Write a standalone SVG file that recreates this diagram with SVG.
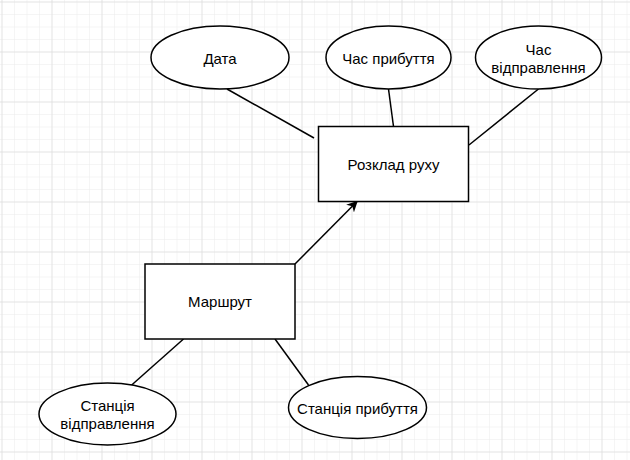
<svg xmlns="http://www.w3.org/2000/svg" width="630" height="460" viewBox="0 0 630 460">
<defs>
<pattern id="minor" width="12.5" height="12.5" patternUnits="userSpaceOnUse" x="1.5" y="1.5">
<path d="M0 0H12.5M0 0V12.5" fill="none" stroke="#ececec" stroke-width="1"/>
</pattern>
<pattern id="major" width="50" height="50" patternUnits="userSpaceOnUse" x="1.5" y="1.5">
<path d="M0 0H50M0 0V50" fill="none" stroke="#d6d6d6" stroke-width="1"/>
</pattern>
<marker id="arr" viewBox="0 0 10 10" refX="9" refY="5" markerWidth="11" markerHeight="11" markerUnits="userSpaceOnUse" orient="auto">
<path d="M0 0L10 5L0 10L3 5Z" fill="#000"/>
</marker>
</defs>
<style>
.shape{fill:#fff;stroke:#000;stroke-width:1.5}
.edge{fill:none;stroke:#000;stroke-width:1.5}
text{font-family:"Liberation Sans",Arial,sans-serif;font-size:15px;fill:#000;text-anchor:middle;dominant-baseline:central}
</style>
<rect width="630" height="460" fill="#fff"/>
<rect width="630" height="460" fill="url(#minor)"/>
<rect width="630" height="460" fill="url(#major)"/>
<g id="connectors">
<line class="edge" x1="227" y1="89" x2="314" y2="138"/>
<line class="edge" x1="388.5" y1="89" x2="393.5" y2="126.5"/>
<line class="edge" x1="538.5" y1="89" x2="469" y2="145"/>
<line class="edge" x1="295" y1="264" x2="357" y2="201.5" marker-end="url(#arr)"/>
<line class="edge" x1="183.5" y1="339" x2="130" y2="386.5"/>
<line class="edge" x1="275" y1="339" x2="308.5" y2="385"/>
</g>
<g id="data">
<ellipse class="shape" cx="220" cy="57.5" rx="69" ry="31.5"/>
<text x="220" y="58">Дата</text>
</g>
<g id="chas-prybuttia">
<ellipse class="shape" cx="388.5" cy="57.5" rx="62.5" ry="31.5"/>
<text x="388.5" y="58">Час прибуття</text>
</g>
<g id="chas-vidpravlennia">
<ellipse class="shape" cx="538.5" cy="57.5" rx="63" ry="31.5"/>
<text x="538.5" y="49">Час</text>
<text x="538.5" y="67">відправлення</text>
</g>
<g id="rozklad">
<rect class="shape" x="318.5" y="126.5" width="150" height="75"/>
<text x="393.5" y="164">Розклад руху</text>
</g>
<g id="marshrut">
<rect class="shape" x="145" y="264" width="150" height="75"/>
<text x="220" y="301.5">Маршрут</text>
</g>
<g id="stantsiia-vidpravlennia">
<ellipse class="shape" cx="107.5" cy="414" rx="68.5" ry="31"/>
<text x="107.5" y="405">Станція</text>
<text x="107.5" y="423">відправлення</text>
</g>
<g id="stantsiia-prybuttia">
<ellipse class="shape" cx="357.5" cy="407.5" rx="69" ry="31"/>
<text x="357.5" y="408">Станція прибуття</text>
</g>
</svg>
